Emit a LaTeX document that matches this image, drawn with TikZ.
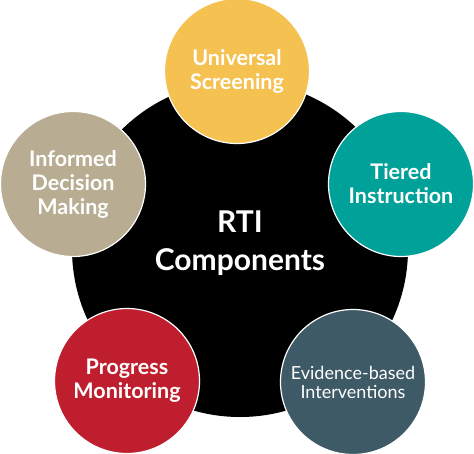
\documentclass[tikz,border=0pt]{standalone}
\usepackage{fontspec}
\setmainfont{Lato}
\usetikzlibrary{positioning}

\definecolor{screenyellow}{RGB}{245,193,80}
\definecolor{tierteal}{RGB}{0,161,152}
\definecolor{evidslate}{RGB}{62,90,102}
\definecolor{progred}{RGB}{190,30,45}
\definecolor{decitan}{RGB}{184,173,147}

\begin{document}
\begin{tikzpicture}[x=1pt,y=-1pt]
\tikzstyle{part}=[circle,draw=white,line width=1.2pt,minimum size=145pt,inner sep=0pt,text=white,align=center,font=\bfseries\fontsize{21.5}{24}\selectfont]

\useasboundingbox (0,0) rectangle (474,453);

\node[circle,fill=black,minimum size=336pt,inner sep=0pt] (R) at (240,249) {};
\node[text=white,align=center,font=\bfseries\fontsize{30}{38}\selectfont] (RC) at ([yshift=6pt]R.center) {RTI\\Components};

\node[part,fill=screenyellow]	(U) at (237,71)  {Universal\\Screening};
\node[part,fill=tierteal]		(T) at (401,184) {Tiered\\Instruction};
\node[part,fill=evidslate,font=\fontsize{18}{19}\selectfont]	(E) at (353,382) {Evidence-based\\Interventions};
\node[part,fill=progred]		(P) at (127,381) {Progress\\Monitoring};
\node[part,fill=decitan]		(I) at (73,184)  {Informed\\Decision\\Making};
\end{tikzpicture}
\end{document}
